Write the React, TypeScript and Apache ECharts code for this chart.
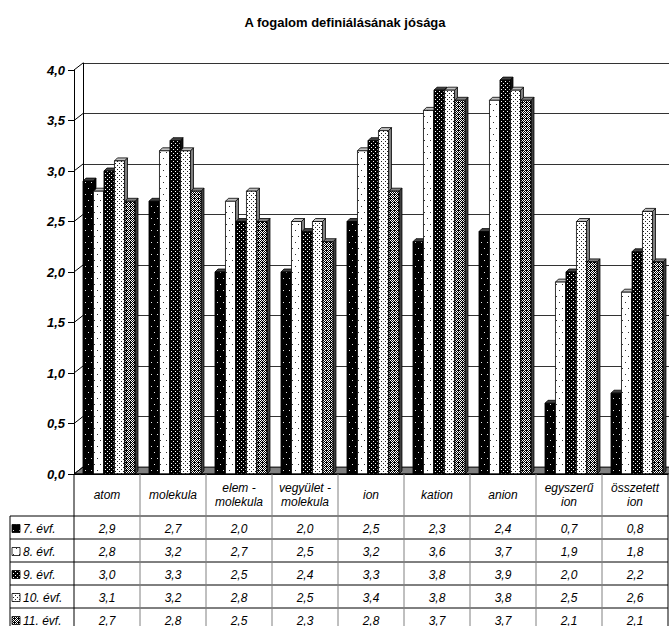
import React, { useEffect, useRef } from 'react';
import * as echarts from 'echarts';

const titleText = 'A fogalom definiálásának jósága';
const categories = ['atom', 'molekula', 'elem -\nmolekula', 'vegyület -\nmolekula', 'ion', 'kation', 'anion', 'egyszerű\nion', 'összetett\nion'];
const seriesNames = ['7. évf.', '8. évf.', '9. évf.', '10. évf.', '11. évf.'];
const grade7 = [2.9, 2.7, 2.0, 2.0, 2.5, 2.3, 2.4, 0.7, 0.8];
const grade8 = [2.8, 3.2, 2.7, 2.5, 3.2, 3.6, 3.7, 1.9, 1.8];
const grade9 = [3.0, 3.3, 2.5, 2.4, 3.3, 3.8, 3.9, 2.0, 2.2];
const grade10 = [3.1, 3.2, 2.8, 2.5, 3.4, 3.8, 3.8, 2.5, 2.6];
const grade11 = [2.7, 2.8, 2.5, 2.3, 2.8, 3.7, 3.7, 2.1, 2.1];
const yTicks = [0, 0.5, 1, 1.5, 2, 2.5, 3, 3.5, 4];

const seriesValues = [grade7, grade8, grade9, grade10, grade11];

const FONT = '"Liberation Sans", Arial, sans-serif';
const fmt = (v: number) => v.toFixed(1).replace('.', ',');

function makeTile(bg: string, fg: string, w: number, h: number, dots: number[][]) {
  const c = document.createElement('canvas');
  c.width = w;
  c.height = h;
  const ctx = c.getContext('2d') as CanvasRenderingContext2D;
  ctx.fillStyle = bg;
  ctx.fillRect(0, 0, w, h);
  ctx.fillStyle = fg;
  dots.forEach((d) => ctx.fillRect(d[0], d[1], d[2] || 1, d[3] || d[2] || 1));
  return { image: c, repeat: 'repeat', imageWidth: w, imageHeight: h };
}

function checker11() {
  const dots: number[][] = [];
  for (let y = 0; y < 4; y++) for (let x = 0; x < 4; x++) {
    if ((x + y) % 2 === 0 && !(x === 2 && y === 2)) dots.push([x, y]);
  }
  return dots;
}

export default function App() {
  const ref = useRef<HTMLDivElement>(null);
  useEffect(() => {
    if (!ref.current) return;
    const chart = echarts.init(ref.current, undefined, { renderer: 'svg' });

    const patterns = [
      makeTile('#000000', '#e8e8e8', 6, 12, [[1, 2], [4, 8]]),
      makeTile('#ffffff', '#303030', 6, 12, [[1, 2], [4, 8]]),
      makeTile('#000000', '#ffffff', 4, 4, [[1, 1], [3, 3]]),
      makeTile('#ffffff', '#202020', 4, 4, [[1, 1], [3, 3]]),
      makeTile('#000000', '#ffffff', 4, 4, checker11()),
    ];
    const sideFill = ['#000000', '#808080', '#101010', '#808080', '#404040'];
    const topFill = ['#404040', '#c0c0c0', '#404040', '#c0c0c0', '#808080'];

    const PLOT_LEFT = 74;
    const PLOT_TOP = 70;
    const PLOT_W = 594;
    const PLOT_H = 404;
    const DX = 9;
    const DY = 7;
    const HEADER_H = 42;
    const ROW_H = 23;
    const LEFT_COL = 10;
    const COL_W = PLOT_W / categories.length;
    const baseY = PLOT_TOP + PLOT_H;
    const tableTop = baseY + HEADER_H;

    const barSeries = seriesValues.map((vals, i) => ({
      type: 'custom',
      name: seriesNames[i],
      xAxisIndex: 1,
      yAxisIndex: 1,
      z: 3,
      silent: true,
      encode: { x: 0, y: 1 },
      data: vals.map((v, c) => [c, v]),
      renderItem: (params: any, api: any) => {
        const c = api.value(0);
        const v = api.value(1);
        const top = api.coord([c, v]);
        const base = api.coord([c, 0]);
        const catW = api.size([1, 0])[0];
        const w = catW * 0.152;
        const x0 = top[0] - catW / 2 + catW * 0.136 + i * catW * 0.159;
        const yT = top[1];
        const yB = base[1];
        const d = 3;
        return {
          type: 'group',
          children: [
            {
              type: 'polygon',
              shape: { points: [[x0 + w, yT], [x0 + w + d, yT - d], [x0 + w + d, yB - d], [x0 + w, yB]] },
              style: { fill: sideFill[i], stroke: '#000', lineWidth: 0.8 },
            },
            {
              type: 'polygon',
              shape: { points: [[x0, yT], [x0 + d, yT - d], [x0 + w + d, yT - d], [x0 + w, yT]] },
              style: { fill: topFill[i], stroke: '#000', lineWidth: 0.8 },
            },
            {
              type: 'rect',
              shape: { x: x0, y: yT, width: w, height: yB - yT },
              style: { fill: patterns[i], stroke: '#000', lineWidth: 0.8 },
            },
          ],
        };
      },
    }));

    const connectorSeries = {
      type: 'custom',
      xAxisIndex: 1,
      yAxisIndex: 1,
      z: 2,
      silent: true,
      encode: { x: 0, y: 1 },
      data: yTicks.map((v) => [0, v]),
      renderItem: (params: any, api: any) => {
        const p = api.coord([0, api.value(1)]);
        const x = params.coordSys.x;
        return {
          type: 'line',
          shape: { x1: x, y1: p[1], x2: x + DX, y2: p[1] - DY },
          style: { stroke: '#000', lineWidth: 1 },
        };
      },
    };

    const tableData: number[][] = [];
    seriesValues.forEach((vals, r) => vals.forEach((v, c) => tableData.push([c, r, v])));

    const tableSeries = {
      type: 'custom',
      xAxisIndex: 1,
      yAxisIndex: 1,
      z: 5,
      silent: true,
      clip: false,
      encode: { x: 0, y: 1 },
      data: tableData,
      renderItem: (params: any, api: any) => {
        const c = api.value(0);
        const r = api.value(1);
        const v = api.value(2);
        const x = api.coord([c, 0])[0];
        const cs = params.coordSys;
        const y = cs.y + cs.height + HEADER_H + ROW_H * r + ROW_H / 2 + 1;
        return {
          type: 'text',
          x,
          y,
          style: {
            text: fmt(v),
            fill: '#000',
            fontSize: 12,
            fontStyle: 'italic',
            fontFamily: FONT,
            align: 'center',
            verticalAlign: 'middle',
          },
        };
      },
    };

    const graphics: any[] = [];
    // floor
    graphics.push({
      type: 'polygon',
      z: 0,
      silent: true,
      shape: {
        points: [
          [PLOT_LEFT, baseY],
          [PLOT_LEFT + PLOT_W, baseY],
          [PLOT_LEFT + PLOT_W + DX, baseY - DY],
          [PLOT_LEFT + DX, baseY - DY],
        ],
      },
      style: { fill: '#808080', stroke: '#000', lineWidth: 0.8 },
    });
    // table horizontal lines
    for (let r = 0; r < seriesNames.length; r++) {
      const y = tableTop + r * ROW_H;
      graphics.push({
        type: 'line',
        z: 10,
        silent: true,
        shape: { x1: LEFT_COL, y1: y, x2: PLOT_LEFT + PLOT_W, y2: y },
        style: { stroke: '#000', lineWidth: 1 },
      });
    }
    graphics.push({
      type: 'line', z: 10, silent: true,
      shape: { x1: PLOT_LEFT, y1: baseY, x2: PLOT_LEFT + PLOT_W, y2: baseY },
      style: { stroke: '#000', lineWidth: 1 },
    });
    // vertical lines
    graphics.push({
      type: 'line', z: 10, silent: true,
      shape: { x1: LEFT_COL, y1: tableTop, x2: LEFT_COL, y2: 640 },
      style: { stroke: '#000', lineWidth: 1 },
    });
    for (let k = 0; k <= categories.length; k++) {
      const x = PLOT_LEFT + k * COL_W;
      const edge = k === 0 || k === categories.length;
      graphics.push({
        type: 'line', z: 10, silent: true,
        shape: { x1: x, y1: baseY, x2: x, y2: 640 },
        style: { stroke: edge ? '#000' : '#808080', lineWidth: 1 },
      });
    }
    // row labels with legend keys
    seriesNames.forEach((name, r) => {
      const cy = tableTop + r * ROW_H + ROW_H / 2 + 1;
      graphics.push({
        type: 'rect', z: 11, silent: true,
        shape: { x: 12, y: cy - 4, width: 8, height: 8 },
        style: { fill: patterns[r], stroke: '#000', lineWidth: 0.8 },
      });
      graphics.push({
        type: 'text', z: 11, silent: true,
        x: 23, y: cy,
        style: {
          text: name, fill: '#000', fontSize: 12, fontStyle: 'italic', fontFamily: FONT,
          align: 'left', verticalAlign: 'middle',
        },
      });
    });

    const option: any = {
      animation: false,
      backgroundColor: '#ffffff',
      title: {
        text: titleText,
        left: 340,
        top: 11,
        textAlign: 'center',
        textStyle: { fontFamily: FONT, fontSize: 13, fontWeight: 'bold', color: '#000' },
      },
      grid: [
        { left: PLOT_LEFT + DX, top: PLOT_TOP - DY, width: PLOT_W, height: PLOT_H },
        { left: PLOT_LEFT, top: PLOT_TOP, width: PLOT_W, height: PLOT_H },
      ],
      xAxis: [
        { gridIndex: 0, type: 'category', data: categories, show: false },
        {
          gridIndex: 1,
          type: 'category',
          data: categories,
          axisLine: { show: true, lineStyle: { color: '#000', width: 1 } },
          axisTick: { show: false },
          axisLabel: {
            interval: 0,
            margin: 21,
            verticalAlign: 'middle',
            lineHeight: 14,
            color: '#000',
            fontSize: 12,
            fontStyle: 'italic',
            fontFamily: FONT,
          },
          splitLine: { show: false },
        },
      ],
      yAxis: [
        {
          gridIndex: 0,
          type: 'value',
          min: 0,
          max: 4,
          interval: 0.5,
          axisLine: { show: true, lineStyle: { color: '#000', width: 1 } },
          axisTick: { show: false },
          axisLabel: { show: false },
          splitLine: { show: true, lineStyle: { color: '#333', width: 1 } },
        },
        {
          gridIndex: 1,
          type: 'value',
          min: 0,
          max: 4,
          interval: 0.5,
          axisLine: { show: true, lineStyle: { color: '#000', width: 1 } },
          axisTick: { show: true, length: 6, lineStyle: { color: '#000', width: 1 } },
          axisLabel: {
            margin: 9,
            formatter: (v: number) => fmt(v),
            color: '#000',
            fontSize: 13,
            fontWeight: 'bold',
            fontStyle: 'italic',
            fontFamily: FONT,
          },
          splitLine: { show: false },
        },
      ],
      graphic: { elements: graphics },
      series: [connectorSeries, ...barSeries, tableSeries],
    };

    chart.setOption(option);
    return () => chart.dispose();
  }, []);

  return (
    <div
      ref={ref}
      style={{ position: 'absolute', left: 0, top: 0, width: 669, height: 626, background: '#fff' }}
    />
  );
}
